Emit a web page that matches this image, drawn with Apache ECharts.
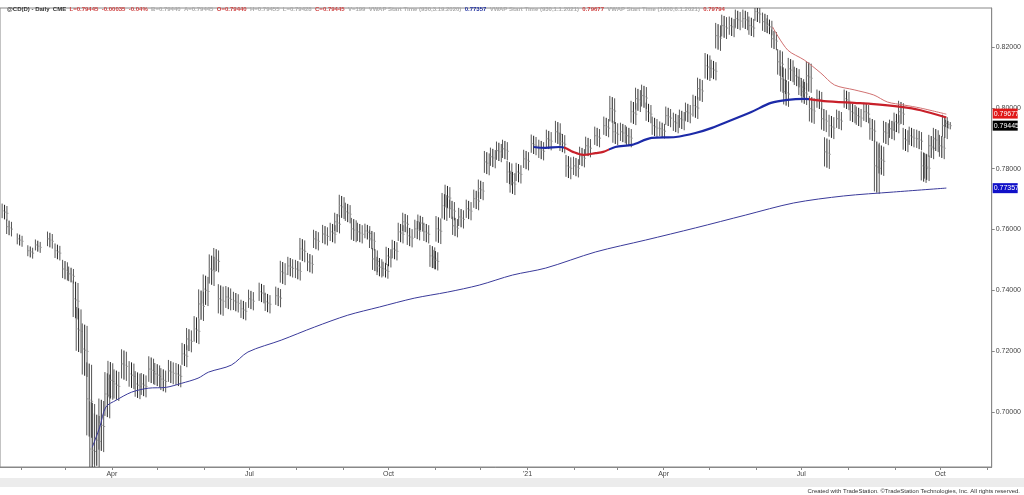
<!DOCTYPE html>
<html lang="en">
<head>
<meta charset="UTF-8">
<title>CD Daily</title>
<script src="https://cdn.jsdelivr.net/npm/echarts@6/dist/echarts.min.js"></script>
<style>
  html, body { margin: 0; height: 100%; background: #fff; }
  #chart { width: 1024px; height: 495px; }
</style>
</head>
<body>
<div id="chart"></div>
<script>
// day = calendar days since 2020-01-01, [day, mid price, bar range]
var bars = [
  [20,0.7657,0.004],[23,0.7605,0.004],[30,0.7565,0.003],[37,0.7526,0.003],[42,0.7545,0.003],
  [50,0.7565,0.004],[55,0.7526,0.004],[60,0.7466,0.005],[64,0.7450,0.004],[67,0.7368,0.010],
  [69,0.7269,0.012],[73,0.7203,0.014],[76,0.7039,0.020],[78,0.6874,0.026],[81,0.6907,0.014],
  [84,0.6956,0.014],[88,0.7055,0.012],[90,0.7104,0.010],[94,0.7088,0.008],[99,0.7154,0.008],
  [104,0.7121,0.007],[108,0.7088,0.007],[112,0.7088,0.006],[117,0.7137,0.007],[121,0.7121,0.006],
  [125,0.7104,0.006],[130,0.7131,0.006],[135,0.7121,0.006],[139,0.7187,0.006],[142,0.7236,0.006],
  [147,0.7269,0.007],[150,0.7351,0.008],[153,0.7400,0.008],[157,0.7466,0.008],[160,0.7499,0.006],
  [163,0.7368,0.008],[168,0.7374,0.006],[173,0.7361,0.005],[178,0.7335,0.005],[183,0.7368,0.005],
  [190,0.7391,0.005],[194,0.7358,0.005],[201,0.7378,0.005],[204,0.7457,0.006],[209,0.7476,0.005],
  [214,0.7466,0.005],[217,0.7532,0.006],[222,0.7489,0.005],[226,0.7565,0.005],[232,0.7581,0.005],
  [237,0.7588,0.005],[240,0.7621,0.005],[243,0.7674,0.006],[247,0.7654,0.005],[251,0.7598,0.006],
  [255,0.7588,0.005],[260,0.7591,0.004],[263,0.7565,0.005],[265,0.7499,0.006],[268,0.7476,0.005],
  [272,0.7466,0.004],[274,0.7509,0.005],[278,0.7532,0.005],[282,0.7588,0.005],[285,0.7621,0.005],
  [288,0.7575,0.005],[293,0.7598,0.005],[295,0.7621,0.004],[299,0.7588,0.005],[303,0.7509,0.006],
  [305,0.7499,0.005],[307,0.7598,0.007],[311,0.7674,0.007],[313,0.7707,0.006],[316,0.7664,0.005],
  [318,0.7608,0.005],[322,0.7637,0.005],[327,0.7664,0.005],[332,0.7697,0.005],[335,0.7730,0.005],
  [339,0.7818,0.006],[343,0.7835,0.005],[347,0.7855,0.005],[351,0.7861,0.005],[354,0.7785,0.006],
  [356,0.7753,0.006],[360,0.7785,0.005],[365,0.7828,0.005],[370,0.7878,0.005],[375,0.7861,0.005],
  [380,0.7894,0.005],[386,0.7917,0.006],[389,0.7884,0.005],[393,0.7805,0.006],[398,0.7805,0.005],
  [402,0.7838,0.005],[406,0.7871,0.005],[412,0.7904,0.005],[418,0.7937,0.005],[422,0.7993,0.007],
  [424,0.7917,0.006],[429,0.7917,0.005],[433,0.7904,0.005],[436,0.7983,0.006],[439,0.8026,0.006],
  [443,0.8036,0.006],[446,0.7983,0.005],[450,0.7937,0.005],[455,0.7927,0.004],[459,0.7970,0.005],
  [464,0.7950,0.005],[468,0.7960,0.005],[472,0.7983,0.005],[477,0.8003,0.006],[480,0.8059,0.006],
  [485,0.8134,0.007],[489,0.8124,0.005],[492,0.8233,0.007],[496,0.8266,0.006],[501,0.8266,0.005],
  [505,0.8289,0.005],[510,0.8289,0.005],[514,0.8266,0.005],[518,0.8312,0.005],[523,0.8279,0.005],
  [526,0.8266,0.004],[529,0.8223,0.005],[533,0.8147,0.007],[535,0.8091,0.007],[537,0.8049,0.007],
  [540,0.8124,0.006],[544,0.8101,0.005],[547,0.8068,0.005],[549,0.8049,0.006],[552,0.8101,0.008],
  [554,0.7993,0.007],[559,0.8026,0.005],[562,0.7960,0.006],[564,0.7851,0.008],[567,0.7937,0.006],
  [572,0.7960,0.005],[577,0.8026,0.005],[581,0.7983,0.005],[585,0.7970,0.005],[590,0.7983,0.005],
  [594,0.7927,0.006],[597,0.7805,0.014],[600,0.7828,0.008],[603,0.7917,0.006],[607,0.7927,0.005],
  [610,0.7950,0.005],[613,0.7983,0.006],[616,0.7894,0.006],[620,0.7904,0.005],[625,0.7894,0.005],
  [628,0.7805,0.008],[630,0.7805,0.007],[633,0.7871,0.006],[636,0.7894,0.006],[640,0.7871,0.006],
  [642,0.7937,0.006],[644,0.7945,0.002]
];

var vwap2020 = [
  [78,0.6884],[83,0.6950],[87,0.7016],[94,0.7039],[104,0.7065],[115,0.7078],[127,0.7081],
  [137,0.7094],[148,0.7111],[155,0.7131],[170,0.7154],[181,0.7197],[203,0.7236],[225,0.7279],
  [247,0.7318],[268,0.7345],[291,0.7374],[313,0.7394],[334,0.7417],[356,0.7450],[378,0.7473],
  [411,0.7526],[444,0.7565],[477,0.7605],[510,0.7647],[542,0.7687],[575,0.7710],[608,0.7723],
  [643,0.7736]
];
var vwap2021 = [
  [370,0.7871],[378,0.7868],[387,0.7871],[391,0.7868],[396,0.7855],[403,0.7845],[411,0.7851],
  [416,0.7855],[424,0.7871],[435,0.7878],[448,0.7901],[464,0.7904],[477,0.7917],[488,0.7934],
  [501,0.7960],[514,0.7986],[527,0.8016],[538,0.8026],[549,0.8029],[562,0.8022],[582,0.8016],
  [593,0.8013],[613,0.8003],[626,0.7992],[643,0.7968]
];
var vwapJun = [
  [528,0.8266],[538,0.8190],[549,0.8157],[560,0.8114],[569,0.8075],[582,0.8059],[595,0.8042],
  [604,0.8019],[615,0.8009],[626,0.7999],[643,0.7979]
];

var monthDays = [31,60,91,121,152,182,213,244,274,305,335,366,397,425,456,486,517,547,578,609,639,670];
var labelDays = {91:'Apr',182:'Jul',274:'Oct',366:"'21",456:'Apr',547:'Jul',639:'Oct'};
var priceTicks = [0.70,0.72,0.74,0.76,0.78,0.80,0.82];
// price tags on the right axis: [value, colour, vertical nudge]
var tags = [[0.79677,'#e01818',-4],[0.79445,'#000000',1],[0.77357,'#1010c8',0]];

var xMax = 673;
var chart = echarts.init(document.getElementById('chart'));

chart.setOption({
  animation: false,
  title: {
    left: 2, top: 1,
    text: '{k|@CD(D) - Daily  CME}  {r|L=0.79445  -0.00035  -0.04%}  {g|B=0.79440  A=0.79445}  {r|O=0.79440}  {g|H=0.79455  L=0.79428}  {r|C=0.79445}  {g|V=199  VWAP Start Time (930,3.19.2020)}  {b|0.77357}  {g|VWAP Start Time (930,1.1.2021)}  {r|0.79677}  {g|VWAP Start Time (1600,6.1.2021)}  {r|0.79794}',
    textStyle: {
      fontSize: 6, fontFamily: 'Liberation Sans',
      rich: {
        k: { color: '#333', fontSize: 6 },
        r: { color: '#d04040', fontSize: 6 },
        g: { color: '#aaa', fontSize: 6 },
        b: { color: '#2030a0', fontSize: 6 }
      }
    }
  },
  grid: { left: 0, right: 25, top: 8, bottom: 28, show: true, borderColor: '#888', borderWidth: 1 },
  xAxis: {
    type: 'value', min: 17, max: xMax,
    splitLine: { show: false },
    axisLine: { lineStyle: { color: '#888' } },
    axisTick: { customValues: monthDays, length: 3, lineStyle: { color: '#888' } },
    axisLabel: { customValues: Object.keys(labelDays).map(Number), formatter: function (v) { return labelDays[v] || ''; },
      fontSize: 7, color: '#444', margin: 4, fontFamily: 'Liberation Sans' }
  },
  yAxis: {
    type: 'value', position: 'right', min: 0.6819, max: 0.8328,
    splitLine: { show: false },
    axisLine: { show: true, lineStyle: { color: '#888' } },
    axisTick: { show: true, customValues: priceTicks, length: 3, lineStyle: { color: '#888' } },
    axisLabel: { customValues: priceTicks, formatter: function (v) { return v.toFixed(5); },
      fontSize: 7, color: '#444', margin: 4, fontFamily: 'Liberation Sans' }
  },
  visualMap: {
    show: false, type: 'piecewise', seriesIndex: 2, dimension: 0,
    pieces: [
      { lt: 390, color: '#1c2aa8' }, { gte: 390, lt: 420, color: '#c8202a' },
      { gte: 420, lt: 552, color: '#1c2aa8' }, { gte: 552, color: '#c8202a' }
    ]
  },
  series: [
    {
      type: 'custom', data: bars, clip: true,
      renderItem: function (params, api) {
        var d = api.value(0), m = api.value(1), r = api.value(2) * 1.2;
        var kids = [];
        // cluster of daily bars around each reading
        [[-2.4, 0.0004, '#555'], [0, 0, '#222'], [2.4, -0.0004, '#555']].forEach(function (o) {
          var hi = api.coord([d, m + r / 2 + o[1]]), lo = api.coord([d, m - r / 2 + o[1]]), c = api.coord([d, m + o[1]]);
          var x = hi[0] + o[0];
          kids.push({ type: 'line', shape: { x1: x, y1: hi[1], x2: x, y2: lo[1] }, style: { stroke: o[2], lineWidth: 1 } });
          kids.push({ type: 'line', shape: { x1: x, y1: c[1], x2: x + 1.5, y2: c[1] }, style: { stroke: '#999', lineWidth: 1 } });
        });
        return { type: 'group', children: kids };
      }
    },
    {
      type: 'line', data: vwap2020, showSymbol: false, smooth: 0.3,
      lineStyle: { color: '#3a3a9a', width: 1 }
    },
    {
      type: 'line', data: vwap2021, showSymbol: false, smooth: 0.3,
      lineStyle: { width: 2.2 }
    },
    {
      type: 'line', data: vwapJun, showSymbol: false, smooth: 0.3,
      lineStyle: { color: '#d07070', width: 1 }
    },
    {
      type: 'custom', data: tags, clip: false, z: 10,
      renderItem: function (params, api) {
        var t = tags[params.dataIndex];
        var p = api.coord([xMax, api.value(0)]);
        var y = p[1] + t[2];
        return { type: 'group', children: [
          { type: 'rect', shape: { x: p[0] + 1, y: y - 5, width: 25, height: 10 }, style: { fill: t[1] } },
          { type: 'text', x: p[0] + 2, y: y, style: { text: t[0].toFixed(5), fill: '#fff', fontSize: 7,
            fontFamily: 'Liberation Sans', verticalAlign: 'middle' } }
        ] };
      }
    }
  ],
  graphic: [
    { type: 'rect', left: 0, top: 478, shape: { width: 1024, height: 9 }, style: { fill: '#ececec' } },
    { type: 'text', right: 4, top: 488, style: { text: 'Created with TradeStation. \u00a9TradeStation Technologies, Inc. All rights reserved.', fontSize: 6, fill: '#333', fontFamily: 'Liberation Sans' } }
  ]
});
</script>
</body>
</html>
